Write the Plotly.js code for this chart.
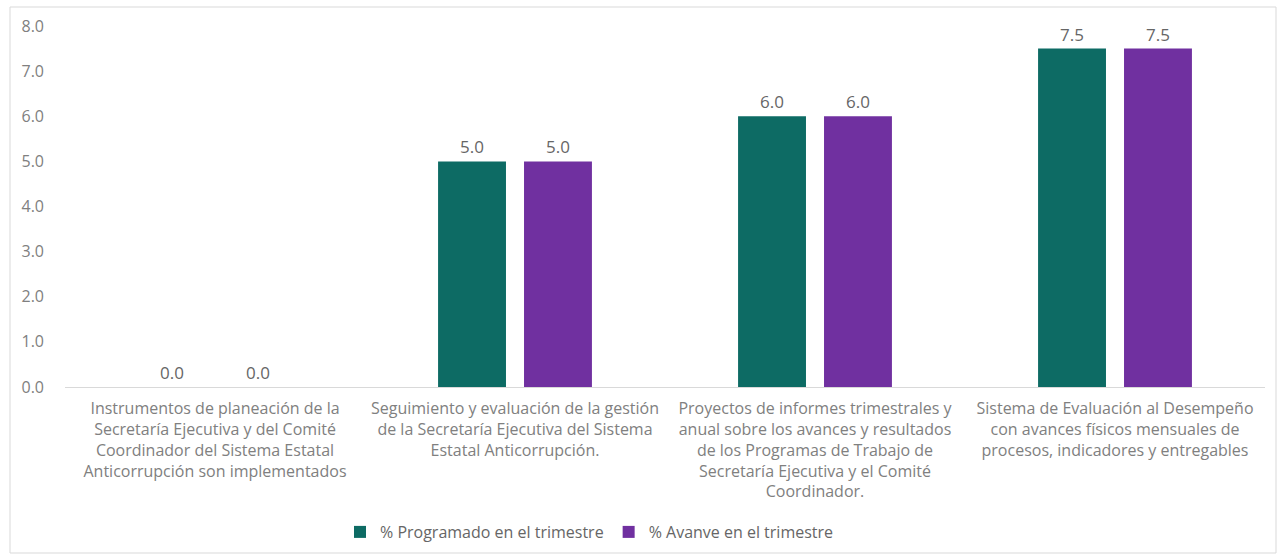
<!DOCTYPE html>
<html>
<head>
<meta charset="utf-8">
<script src="https://cdn.plot.ly/plotly-3.0.1.min.js"></script>
<style>
html,body{margin:0;padding:0;background:#fff;}
#chart{width:1281px;height:555px;}
</style>
</head>
<body>
<div id="chart"></div>
<script>
const categories = [
  "Instrumentos de planeación de la<br>Secretaría Ejecutiva y del Comité<br>Coordinador del Sistema Estatal<br>Anticorrupción son implementados",
  "Seguimiento y evaluación de la gestión<br>de la Secretaría Ejecutiva del Sistema<br>Estatal Anticorrupción.",
  "Proyectos de informes trimestrales y<br>anual sobre los avances y resultados<br>de los Programas de Trabajo de<br>Secretaría Ejecutiva y el Comité<br>Coordinador.",
  "Sistema de Evaluación al Desempeño<br>con avances físicos mensuales de<br>procesos, indicadores y entregables"
];
const programado = [0.0, 5.0, 6.0, 7.5];
const avance = [0.0, 5.0, 6.0, 7.5];
const seriesNames = ["% Programado en el trimestre", "% Avanve en el trimestre"];
const yTicks = [0, 1, 2, 3, 4, 5, 6, 7, 8];

const FONT = "'Open Sans', 'Noto Sans', sans-serif";
const GRAY = "#666666";
const LIGHT = "#808080";

const traces = [
  {type: "bar", name: seriesNames[0], x: categories, y: programado,
   marker: {color: "#0d6b64"}, text: programado.map(v => v.toFixed(1)),
   textposition: "outside", cliponaxis: false,
   textfont: {family: FONT, size: 17, color: GRAY}},
  {type: "bar", name: seriesNames[1], x: categories, y: avance,
   marker: {color: "#7030a0"}, text: avance.map(v => v.toFixed(1)),
   textposition: "outside", cliponaxis: false,
   textfont: {family: FONT, size: 17, color: GRAY}}
];

const layout = {
  width: 1281, height: 555,
  margin: {l: 65, r: 16, t: 26, b: 168, autoexpand: false},
  paper_bgcolor: "#fff", plot_bgcolor: "#fff",
  font: {family: FONT, color: LIGHT, size: 15},
  barmode: "group", bargap: 0.427, bargroupgap: 0.21,
  showlegend: true,
  legend: {orientation: "h", x: (340 - 65) / 1200, xanchor: "left", y: (387 - 532) / 361, yanchor: "middle",
           bgcolor: "rgba(0,0,0,0)",
           font: {family: FONT, size: 16, color: GRAY}, itemwidth: 30},
  xaxis: {showline: true, linecolor: "#d9d9d9", linewidth: 1, ticks: "",
          ticklabelstandoff: 7,
          tickfont: {family: FONT, size: 16, color: LIGHT}, automargin: false, fixedrange: true},
  yaxis: {range: [0, 8], tickvals: yTicks, tickformat: ".1f", showgrid: false,
          zeroline: false, showline: false, ticks: "", ticklabelstandoff: 20,
          tickfont: {family: FONT, size: 16, color: LIGHT}, automargin: false, fixedrange: true},
  shapes: [{type: "rect", xref: "paper", yref: "paper",
            x0: (10 - 65) / 1200, x1: (1276 - 65) / 1200,
            y0: (387 - 553) / 361, y1: (387 - 7) / 361,
            line: {color: "#d9d9d9", width: 1}, fillcolor: "rgba(0,0,0,0)", layer: "below"}]
};

Plotly.newPlot("chart", traces, layout, {displayModeBar: false, staticPlot: true});
</script>
</body>
</html>
